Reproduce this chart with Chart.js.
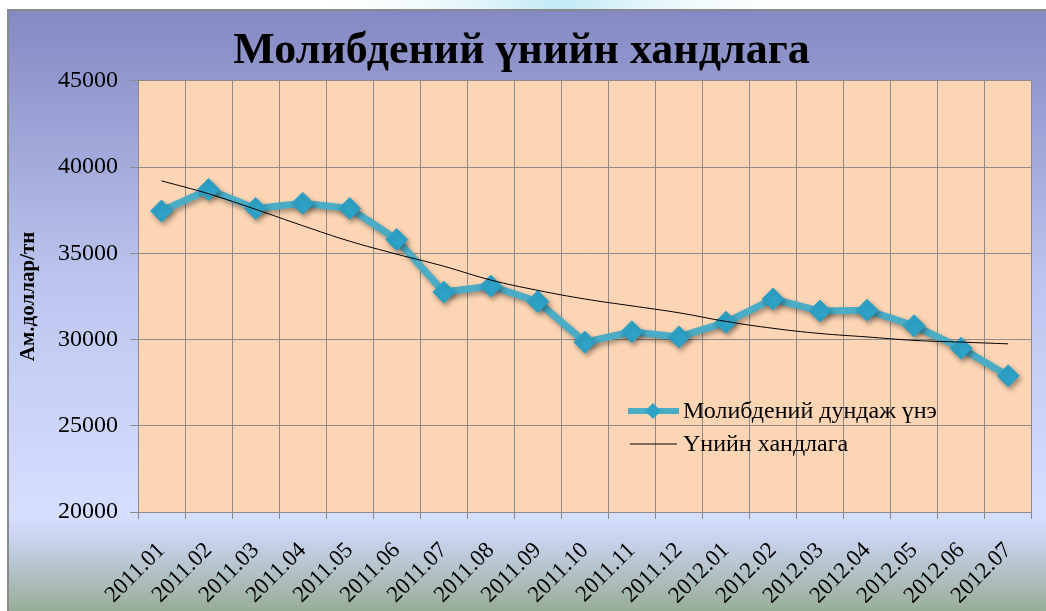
<!DOCTYPE html>
<html>
<head>
<meta charset="utf-8">
<script src="https://cdn.jsdelivr.net/npm/chart.js@4/dist/chart.umd.min.js"></script>
<style>
	html, body { margin: 0; padding: 0; background: #fff; }
	#wrap { width: 1046px; height: 611px; position: relative; }
</style>
</head>
<body>
<div id="wrap"><canvas id="moChart" width="1046" height="611"></canvas></div>
<script>
// Months shown on the x axis
const months = [
	"2011.01", "2011.02", "2011.03", "2011.04", "2011.05", "2011.06", "2011.07",
	"2011.08", "2011.09", "2011.10", "2011.11", "2011.12", "2012.01", "2012.02",
	"2012.03", "2012.04", "2012.05", "2012.06", "2012.07"
];

// Average molybdenum price, USD per tonne
const avgPrice = [
	37450, 38700, 37600, 37900, 37600, 35800, 32750, 33100, 32200, 29850,
	30450, 30150, 31000, 32350, 31650, 31700, 30800, 29500, 27900
];

// Trend line values at each month
const trendPrice = [
	39200, 38450, 37550, 36600, 35700, 34950, 34250, 33450, 32850, 32350,
	31950, 31550, 31050, 30650, 30350, 30150, 29950, 29850, 29750
];

const yTicks = { min: 20000, max: 45000, step: 5000 };

const serif = "'Liberation Serif', 'DejaVu Serif', serif";

// Paints the slide background, the chart frame and the peach plot area
const backgroundPlugin = {
	id: "background",
	beforeDraw(chart) {
		const { ctx, width, height, chartArea } = chart;
		ctx.save();
		ctx.fillStyle = "#ffffff";
		ctx.fillRect(0, 0, width, height);

		// faint glow above the frame
		const glow = ctx.createRadialGradient(560, 0, 10, 560, 0, 260);
		glow.addColorStop(0, "rgba(190,232,245,0.9)");
		glow.addColorStop(1, "rgba(255,255,255,0)");
		ctx.fillStyle = glow;
		ctx.fillRect(0, 0, width, 10);

		const bg = ctx.createLinearGradient(0, 10, 0, height);
		bg.addColorStop(0, "#8489c3");
		bg.addColorStop(0.45, "#bcc5ee");
		bg.addColorStop(0.84, "#d6dfff");
		bg.addColorStop(0.88, "#c9d3ee");
		bg.addColorStop(1, "#98ad98");
		ctx.fillStyle = bg;
		ctx.fillRect(8, 10, width - 8, height - 10);

		ctx.strokeStyle = "#8a8a8a";
		ctx.lineWidth = 2;
		ctx.beginPath();
		ctx.moveTo(8, height);
		ctx.lineTo(8, 10);
		ctx.lineTo(width, 10);
		ctx.stroke();

		ctx.fillStyle = "#fcd5b4";
		ctx.fillRect(chartArea.left, chartArea.top, chartArea.right - chartArea.left, chartArea.bottom - chartArea.top);
		ctx.restore();
	},
};

// Soft shadow under the main series
const shadowPlugin = {
	id: "shadow",
	beforeDatasetDraw(chart, args) {
		if (args.index !== 0) return;
		const ctx = chart.ctx;
		ctx.save();
		ctx.shadowColor = "rgba(0,0,0,0.35)";
		ctx.shadowBlur = 5;
		ctx.shadowOffsetX = 2;
		ctx.shadowOffsetY = 3;
	},
	afterDatasetDraw(chart, args) {
		if (args.index !== 0) return;
		chart.ctx.restore();
	},
};

// Legend drawn inside the plot area, as in the original
const innerLegendPlugin = {
	id: "innerLegend",
	afterDatasetsDraw(chart) {
		const ctx = chart.ctx;
		const ds = chart.data.datasets;
		ctx.save();
		ctx.font = "24px " + serif;
		ctx.fillStyle = "#000";
		ctx.textBaseline = "middle";

		// row 1: main series
		let y = 411;
		ctx.strokeStyle = ds[0].borderColor;
		ctx.lineWidth = 6;
		ctx.beginPath();
		ctx.moveTo(628, y);
		ctx.lineTo(679, y);
		ctx.stroke();
		ctx.fillStyle = ds[0].pointBackgroundColor;
		ctx.beginPath();
		ctx.moveTo(653, y - 8);
		ctx.lineTo(661, y);
		ctx.lineTo(653, y + 8);
		ctx.lineTo(645, y);
		ctx.closePath();
		ctx.fill();
		ctx.fillStyle = "#000";
		ctx.fillText(ds[0].label, 683, y + 1);

		// row 2: trend line
		y = 444;
		ctx.strokeStyle = ds[1].borderColor;
		ctx.lineWidth = 1;
		ctx.beginPath();
		ctx.moveTo(630, y);
		ctx.lineTo(677, y);
		ctx.stroke();
		ctx.fillText(ds[1].label, 683, y + 1);
		ctx.restore();
	},
};

const canvas = document.getElementById("moChart");
new Chart(canvas.getContext("2d"), {
	type: "line",
	data: {
		labels: months,
		datasets: [
			{
				label: "Молибдений дундаж үнэ",
				data: avgPrice,
				borderColor: "#4bacc6",
				borderWidth: 7,
				pointStyle: "rectRot",
				pointRadius: 11,
				pointBackgroundColor: "#2ea3c7",
				pointBorderColor: "#2ea3c7",
				pointBorderWidth: 1,
				tension: 0,
				order: 2,
			},
			{
				label: "Үнийн хандлага",
				data: trendPrice,
				borderColor: "#000000",
				borderWidth: 1,
				pointRadius: 0,
				tension: 0.4,
				order: 1,
			},
		],
	},
	options: {
		responsive: false,
		animation: false,
		layout: { padding: { left: 8, right: 11, top: 10, bottom: 0 } },
		plugins: {
			legend: { display: false },
			tooltip: { enabled: false },
			title: {
				display: true,
				text: "Молибдений үнийн хандлага",
				color: "#000",
				font: { family: serif, size: 44, weight: "bold" },
				padding: { top: 15, bottom: 3 },
			},
		},
		scales: {
			x: {
				offset: true,
				grid: { offset: true, color: "#8c8c8c", tickLength: 7, drawTicks: true },
				border: { color: "#8c8c8c" },
				ticks: {
					color: "#000",
					font: { family: serif, size: 23 },
					maxRotation: 45,
					minRotation: 45,
					autoSkip: false,
					padding: 18,
				},
				afterFit(scale) {
					scale.height = 99;
				},
			},
			y: {
				min: yTicks.min,
				max: yTicks.max,
				grid: { color: "#8c8c8c", tickLength: 8 },
				border: { color: "#8c8c8c" },
				ticks: {
					stepSize: yTicks.step,
					color: "#000",
					font: { family: serif, size: 24 },
					padding: 12,
					callback: (value) => String(value),
				},
				title: {
					display: true,
					text: "Ам.доллар/тн",
					color: "#000",
					font: { family: serif, size: 21, weight: "bold" },
					padding: { top: 8, bottom: 0 },
				},
				afterFit(scale) {
					scale.width = 130;
				},
			},
		},
	},
	plugins: [backgroundPlugin, shadowPlugin, innerLegendPlugin],
});
</script>
</body>
</html>
